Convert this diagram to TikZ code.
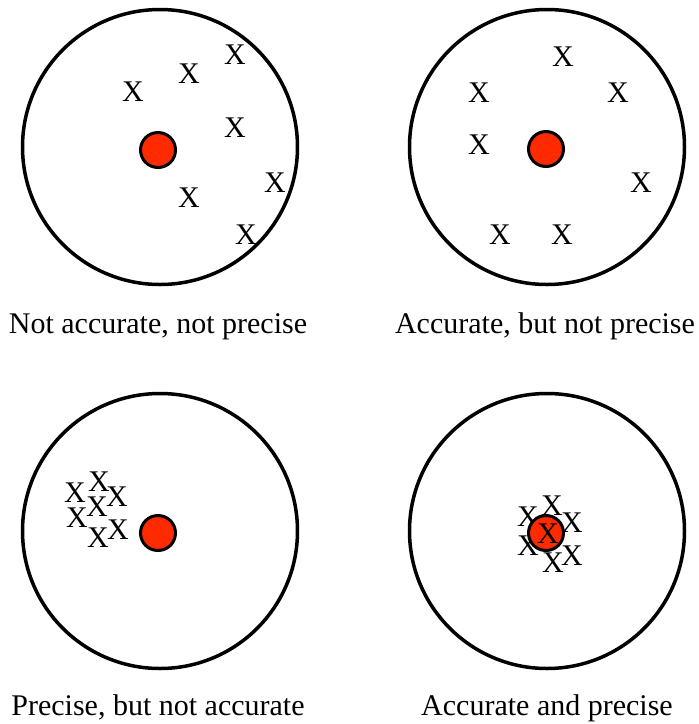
\documentclass[tikz,border=0pt]{standalone}
\usepackage{fontspec}
\setmainfont{Liberation Serif}
\usepackage{xcolor}
\usetikzlibrary{positioning}
\definecolor{bullred}{RGB}{255,42,0}

\begin{document}
\begin{tikzpicture}[x=1pt,y=-1pt,
  target/.style={line width=3.5pt},
  bull/.style={circle,draw,line width=3pt,fill=bullred,minimum size=35pt,inner sep=0pt},
  hit/.style={font=\fontsize{30}{36}\selectfont,inner sep=0pt},
  caption/.style={font=\fontsize{30}{36}\selectfont,inner sep=0pt,anchor=base}]
  \useasboundingbox (0,0) rectangle (699,724);

  % Target centres
  \coordinate (T1) at (160,147);
  \coordinate (T2) at (547,147);
  \coordinate (T3) at (160,531);
  \coordinate (T4) at (547,531);

  % Outer rings
  \draw[target] (T1) circle[radius=137.5pt];
  \draw[target] (T2) circle[radius=137.5pt];
  \draw[target] (T3) circle[radius=137.5pt];
  \draw[target] (T4) circle[radius=137.5pt];

  % Not accurate, not precise
  \node[bull] (b1) at (158,150) {};
  \node[hit] (a1) at (133,92) {X};
  \node[hit] (a2) at (189,74) {X};
  \node[hit] (a3) at (235,55) {X};
  \node[hit] (a4) at (235,128) {X};
  \node[hit] (a5) at (275,183) {X};
  \node[hit] (a6) at (189,198) {X};
  \node[hit] (a7) at (246,235) {X};

  % Accurate, but not precise
  \node[bull] (b2) at (546,149) {};
  \node[hit] (c1) at (563,57) {X};
  \node[hit] (c2) at (479,93) {X};
  \node[hit] (c3) at (618,93) {X};
  \node[hit] (c4) at (479,145) {X};
  \node[hit] (c5) at (641,183) {X};
  \node[hit] (c6) at (500,235) {X};
  \node[hit] (c7) at (562,235) {X};

  % Precise, but not accurate
  \node[bull] (b3) at (158,533) {};
  \node[hit] (d1) at (75,493) {X};
  \node[hit] (d2) at (99,482) {X};
  \node[hit] (d3) at (117,497) {X};
  \node[hit] (d4) at (97,507) {X};
  \node[hit] (d5) at (77,518) {X};
  \node[hit] (d6) at (98,538) {X};
  \node[hit] (d7) at (118,530) {X};

  % Accurate and precise (bull drawn over the outer hits)
  \node[hit] (e1) at (528,517) {X};
  \node[hit] (e2) at (552,506) {X};
  \node[hit] (e3) at (572,523) {X};
  \node[hit] (e4) at (528,546) {X};
  \node[hit] (e5) at (553,563) {X};
  \node[hit] (e6) at (572,556) {X};
  \node[bull] (b4) at (546,533) {};
  \node[hit] (e7) at (548,534) {X};

  % Captions
  \node[caption] (l1) at (158,333) {Not accurate, not precise};
  \node[caption] (l2) at (545,333) {Accurate, but not precise};
  \node[caption] (l3) at (158,715) {Precise, but not accurate};
  \node[caption] (l4) at (547,715) {Accurate and precise};
\end{tikzpicture}
\end{document}
